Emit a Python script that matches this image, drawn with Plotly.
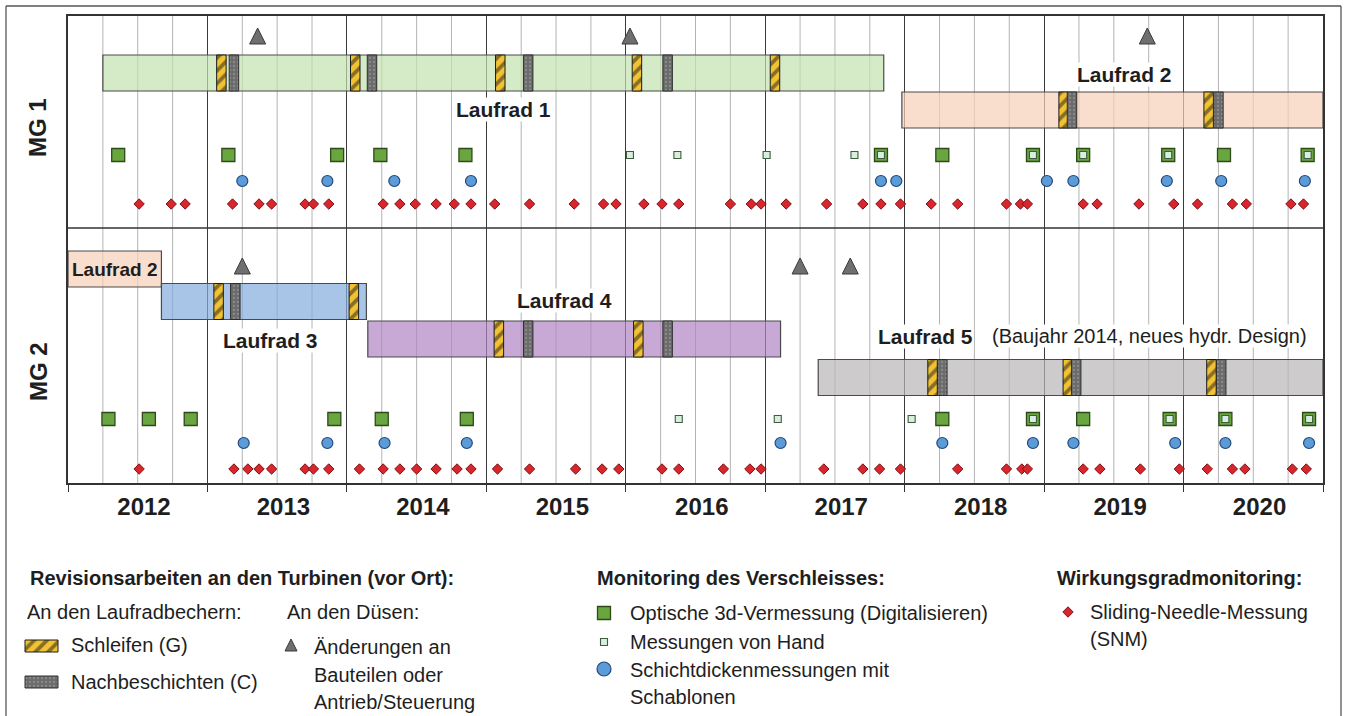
import plotly.graph_objects as go

# ---------------- data (decimal years) ----------------
YEARS = [2012, 2013, 2014, 2015, 2016, 2017, 2018, 2019, 2020]
YEAR_LABELS = ["2012", "2013", "2014", "2015", "2016", "2017", "2018", "2019", "2020"]
MACHINES = ["MG 1", "MG 2"]

RUNNER_MACHINE = ["MG 1", "MG 1", "MG 2", "MG 2", "MG 2", "MG 2"]
RUNNER_NAME = ["Laufrad 1", "Laufrad 2", "Laufrad 2", "Laufrad 3", "Laufrad 4", "Laufrad 5"]
RUNNER_START = [2012.25, 2017.98, 2012.00, 2012.67, 2014.15, 2017.38]
RUNNER_END = [2017.85, 2021.00, 2012.67, 2014.14, 2017.11, 2021.00]

# Schleifen (G) and Nachbeschichten (C)
GRIND_MG1 = [2013.10, 2014.06, 2015.10, 2016.08, 2017.07, 2019.14, 2020.18]
COAT_MG1 = [2013.19, 2014.18, 2015.30, 2016.30, 2019.20, 2020.25]
GRIND_MG2 = [2013.08, 2014.05, 2015.09, 2016.09, 2018.20, 2019.17, 2020.20]
COAT_MG2 = [2013.20, 2015.30, 2016.30, 2018.27, 2019.23, 2020.27]

# Änderungen an den Düsen
NOZZLE_MG1 = [2013.36, 2016.03, 2019.74]
NOZZLE_MG2 = [2013.25, 2017.25, 2017.61]

# Optische 3d-Vermessung / Messungen von Hand / Schichtdickenmessungen
OPTICAL_MG1 = [2012.36, 2013.15, 2013.93, 2014.24, 2014.85, 2017.83, 2018.27,
               2018.92, 2019.28, 2019.89, 2020.29, 2020.89]
HAND_MG1 = [2016.03, 2016.37, 2017.01, 2017.64, 2017.83, 2018.92, 2019.28,
            2019.89, 2020.89]
GAUGE_MG1 = [2013.25, 2013.86, 2014.34, 2014.89, 2017.83, 2017.94, 2019.02,
             2019.21, 2019.88, 2020.27, 2020.87]
OPTICAL_MG2 = [2012.29, 2012.58, 2012.88, 2013.91, 2014.25, 2014.86, 2018.27,
               2018.92, 2019.28, 2019.90, 2020.30, 2020.90]
HAND_MG2 = [2016.38, 2017.09, 2018.05, 2018.92, 2019.90, 2020.30, 2020.90]
GAUGE_MG2 = [2013.26, 2013.86, 2014.27, 2014.86, 2017.11, 2018.27, 2018.92,
             2019.21, 2019.94, 2020.30, 2020.90]

# Sliding-Needle-Messung
SNM_MG1 = [2012.51, 2012.74, 2012.84, 2013.18, 2013.37, 2013.46, 2013.70, 2013.76,
           2013.87, 2014.26, 2014.38, 2014.49, 2014.64, 2014.77, 2014.89, 2015.06,
           2015.31, 2015.63, 2015.84, 2015.93, 2016.13, 2016.26, 2016.38, 2016.75,
           2016.90, 2016.97, 2017.15, 2017.44, 2017.70, 2017.83, 2017.97, 2018.19,
           2018.38, 2018.73, 2018.83, 2018.88, 2019.28, 2019.38, 2019.68, 2019.93,
           2020.10, 2020.35, 2020.45, 2020.77, 2020.86]
SNM_MG2 = [2012.51, 2013.19, 2013.29, 2013.37, 2013.46, 2013.70, 2013.76, 2013.87,
           2014.09, 2014.26, 2014.38, 2014.50, 2014.64, 2014.79, 2014.89, 2015.08,
           2015.31, 2015.64, 2015.83, 2015.95, 2016.26, 2016.38, 2016.70, 2016.89,
           2016.97, 2017.42, 2017.70, 2017.82, 2017.97, 2018.38, 2018.73, 2018.84,
           2018.88, 2019.28, 2019.40, 2019.69, 2019.97, 2020.17, 2020.35, 2020.44,
           2020.78, 2020.88]

# ---------------- layout / style ----------------
FONT = "Liberation Sans, Arial, sans-serif"
INK = "#1e1e1e"
W, H = 1346, 716
PLOT_L, PLOT_R, PLOT_T, PLOT_B = 68, 1323, 16, 483
X0, X1 = 2012, 2021

# rows, in pixels below the top of the plot area
ROWS = {
    "MG 1": dict(nozzle=12, optical=139, gauge=165, snm=188, label=112),
    "MG 2": dict(nozzle=242, optical=403, gauge=427, snm=453, label=356),
}
RUNNER_Y = [57, 94, 253, 285.5, 323, 361.5]
RUNNER_FILL = ["rgba(195,226,176,0.7)", "rgba(248,208,184,0.7)", "rgba(248,208,184,0.7)",
               "rgba(131,171,219,0.7)", "rgba(176,131,194,0.7)", "rgba(184,181,181,0.7)"]
BAR_H = 36
EVENT_W = 0.068
SPLIT_Y = 212

GRIND_STYLE = dict(color="#f2c232", line=dict(color="#1a1a1a", width=1),
                   pattern=dict(shape="/", fgcolor="#1a1a1a", size=9, solidity=0.42,
                                fillmode="overlay"))
COAT_STYLE = dict(color="#6b6b6b", line=dict(color="#2e2e2e", width=1),
                  pattern=dict(shape=".", fgcolor="#a8a8a8", size=4, solidity=0.25,
                               fillmode="overlay"))
OPT_M = dict(symbol="square", color="#6aa640", line=dict(color="#2f4a1a", width=1.3))
HAND_M = dict(symbol="square", color="#d7eee0", line=dict(color="#3d5c3d", width=1.1))
GAUGE_M = dict(symbol="circle", color="#5b9bd8", line=dict(color="#24487a", width=1.2))
SNM_M = dict(symbol="diamond", color="#d9262c", line=dict(color="#7c1216", width=1))
NOZ_M = dict(symbol="arrow-up", color="#6f6f6f", line=dict(color="#3a3a3a", width=1))

series = {
    "MG 1": dict(grind=GRIND_MG1, coat=COAT_MG1, nozzle=NOZZLE_MG1, optical=OPTICAL_MG1,
                 hand=HAND_MG1, gauge=GAUGE_MG1, snm=SNM_MG1),
    "MG 2": dict(grind=GRIND_MG2, coat=COAT_MG2, nozzle=NOZZLE_MG2, optical=OPTICAL_MG2,
                 hand=HAND_MG2, gauge=GAUGE_MG2, snm=SNM_MG2),
}


def runner_row(machine, date):
    for m, s, e, y in zip(RUNNER_MACHINE, RUNNER_START, RUNNER_END, RUNNER_Y):
        if m == machine and s <= date <= e:
            return y
    return None


fig = go.Figure()

# runners
fig.add_trace(go.Bar(
    y=RUNNER_Y, base=RUNNER_START,
    x=[e - s for s, e in zip(RUNNER_START, RUNNER_END)],
    orientation="h", width=BAR_H,
    marker=dict(color=RUNNER_FILL, line=dict(color="#4a4a4a", width=1.2)),
    hoverinfo="skip", showlegend=False,
))

for mg in MACHINES:
    d = series[mg]
    r = ROWS[mg]
    for key, style in (("grind", GRIND_STYLE), ("coat", COAT_STYLE)):
        dates = d[key]
        fig.add_trace(go.Bar(
            y=[runner_row(mg, t) for t in dates],
            base=[t - EVENT_W / 2 for t in dates],
            x=[EVENT_W] * len(dates),
            orientation="h", width=BAR_H, marker=style,
            hoverinfo="skip", showlegend=False,
        ))
    fig.add_trace(go.Scatter(x=d["nozzle"], y=[r["nozzle"]] * len(d["nozzle"]),
                             mode="markers", marker=dict(size=16, **NOZ_M),
                             hoverinfo="x", showlegend=False))
    fig.add_trace(go.Scatter(x=d["optical"], y=[r["optical"]] * len(d["optical"]),
                             mode="markers", marker=dict(size=13, **OPT_M),
                             hoverinfo="x", showlegend=False))
    fig.add_trace(go.Scatter(x=d["hand"], y=[r["optical"]] * len(d["hand"]),
                             mode="markers", marker=dict(size=7, **HAND_M),
                             hoverinfo="x", showlegend=False))
    fig.add_trace(go.Scatter(x=d["gauge"], y=[r["gauge"]] * len(d["gauge"]),
                             mode="markers", marker=dict(size=11, **GAUGE_M),
                             hoverinfo="x", showlegend=False))
    fig.add_trace(go.Scatter(x=d["snm"], y=[r["snm"]] * len(d["snm"]),
                             mode="markers", marker=dict(size=8, **SNM_M),
                             hoverinfo="x", showlegend=False))

# ---------------- legend (drawn on a pixel-unit overlay axis) ----------------
LX, LY = "x2", "y2"
for (by, m) in [(646, GRIND_STYLE), (682, COAT_STYLE)]:
    fig.add_trace(go.Bar(y=[by], base=[25], x=[33], orientation="h", width=12, marker=m,
                         xaxis=LX, yaxis=LY, hoverinfo="skip", showlegend=False))
for (lx, ly, size, m) in [(291, 639, 12, NOZ_M), (604, 613, 13, OPT_M), (604, 642, 7, HAND_M),
                          (604, 669, 14, GAUGE_M), (1068, 612, 8, SNM_M)]:
    fig.add_trace(go.Scatter(x=[lx], y=[ly], mode="markers", marker=dict(size=size, **m),
                             xaxis=LX, yaxis=LY, hoverinfo="skip", showlegend=False))

legend_text = [
    (28, 578, "<b>Revisionsarbeiten an den Turbinen (vor Ort):</b>"),
    (25, 612, "An den Laufradbechern:"),
    (285, 612, "An den Düsen:"),
    (69, 645, "Schleifen (G)"),
    (69, 682, "Nachbeschichten (C)"),
    (312, 647, "Änderungen an"),
    (312, 675, "Bauteilen oder"),
    (312, 702, "Antrieb/Steuerung"),
    (595, 578, "<b>Monitoring des Verschleisses:</b>"),
    (628, 613, "Optische 3d-Vermessung (Digitalisieren)"),
    (628, 642, "Messungen von Hand"),
    (628, 670, "Schichtdickenmessungen mit"),
    (628, 697, "Schablonen"),
    (1055, 578, "<b>Wirkungsgradmonitoring:</b>"),
    (1088, 612, "Sliding-Needle-Messung"),
    (1088, 639, "(SNM)"),
]
annotations = [dict(x=x, y=y, xref=LX, yref=LY, text=t, showarrow=False, xanchor="left",
                    yanchor="middle", font=dict(size=20, color=INK, family=FONT))
               for x, y, t in legend_text]

# runner labels
runner_labels = [
    (2015.12, 94, "Laufrad 1", 21, "center", "white"),
    (2019.58, 59, "Laufrad 2", 21, "center", "white"),
    (2012.34, 253, "Laufrad 2", 19, "center", None),
    (2013.45, 324, "Laufrad 3", 21, "center", "white"),
    (2015.56, 284, "Laufrad 4", 21, "center", "white"),
    (2017.80, 320, "Laufrad 5", 21, "left", "white"),
]
for x, y, t, s, anc, bg in runner_labels:
    annotations.append(dict(x=x, y=y, xref="x", yref="y", text=f"<b>{t}</b>", showarrow=False,
                            xanchor=anc, yanchor="middle", bgcolor=bg, borderpad=0,
                            font=dict(size=s, color=INK, family=FONT)))
annotations.append(dict(x=2018.62, y=320, xref="x", yref="y",
                        text="(Baujahr 2014, neues hydr. Design)", showarrow=False,
                        xanchor="left", yanchor="middle", bgcolor="white", borderpad=0,
                        font=dict(size=20, color=INK, family=FONT)))

# machine labels in the left column
for mg in MACHINES:
    annotations.append(dict(x=38 / W, y=ROWS[mg]["label"], xref="paper", yref="y",
                            text=f"<b>{mg}</b>", showarrow=False, textangle=-90,
                            xanchor="center", yanchor="middle",
                            font=dict(size=24, color=INK, family=FONT)))

shapes = []
# quarter lines
q = X0 + 0.25
while q < X1 - 1e-9:
    if abs(q - round(q)) > 1e-6:
        shapes.append(dict(type="line", xref="x", yref="paper",
                           x0=q, x1=q, y0=1 - PLOT_B / H, y1=1 - PLOT_T / H,
                           line=dict(color="#b4b4b4", width=1), layer="below"))
    q += 0.25
shapes.append(dict(type="line", xref="paper", yref="y", x0=PLOT_L / W, x1=PLOT_R / W,
                   y0=SPLIT_Y, y1=SPLIT_Y, line=dict(color="#333333", width=1.5), layer="below"))
# outer frame (left, top, right)
for x0, y0, x1, y1 in [(6, 716, 6, 6), (6, 6, 1341, 6), (1341, 6, 1341, 716)]:
    shapes.append(dict(type="line", xref="paper", yref="paper", x0=x0 / W, x1=x1 / W,
                       y0=1 - y0 / H, y1=1 - y1 / H, line=dict(color="#555555", width=1.3)))

fig.update_layout(
    width=W, height=H, margin=dict(l=0, r=0, t=0, b=0),
    paper_bgcolor="white", plot_bgcolor="rgba(0,0,0,0)",
    barmode="overlay", font=dict(family=FONT, color=INK),
    annotations=annotations, shapes=shapes,
    xaxis=dict(domain=[PLOT_L / W, PLOT_R / W], range=[X0, X1], fixedrange=True,
               tickmode="array", tickvals=[y + 0.545 for y in YEARS], ticktext=YEAR_LABELS,
               ticks="outside", ticklen=1, tickcolor="rgba(0,0,0,0)", showgrid=False,
               zeroline=False,
               tickfont=dict(size=24, family=FONT, color=INK, weight="bold"),
               showline=True, mirror=True, linecolor="#333333", linewidth=1.5,
               minor=dict(tickmode="linear", tick0=X0, dtick=1, ticks="outside", ticklen=7,
                          tickwidth=1.3, tickcolor="#333333", showgrid=True,
                          gridcolor="#3a3a3a", gridwidth=1.3)),
    yaxis=dict(domain=[1 - PLOT_B / H, 1 - PLOT_T / H], range=[PLOT_B - PLOT_T, 0],
               fixedrange=True, showticklabels=False, ticks="", showgrid=False,
               zeroline=False, showline=True, mirror=True, linecolor="#333333", linewidth=1.5),
    xaxis2=dict(domain=[0, 1], range=[0, W], visible=False, fixedrange=True, anchor="y2"),
    yaxis2=dict(domain=[0, 1], range=[H, 0], visible=False, fixedrange=True, anchor="x2"),
)

fig.write_html("out.html", config={"displayModeBar": False},
               post_script="document.body.style.margin = '0';")
